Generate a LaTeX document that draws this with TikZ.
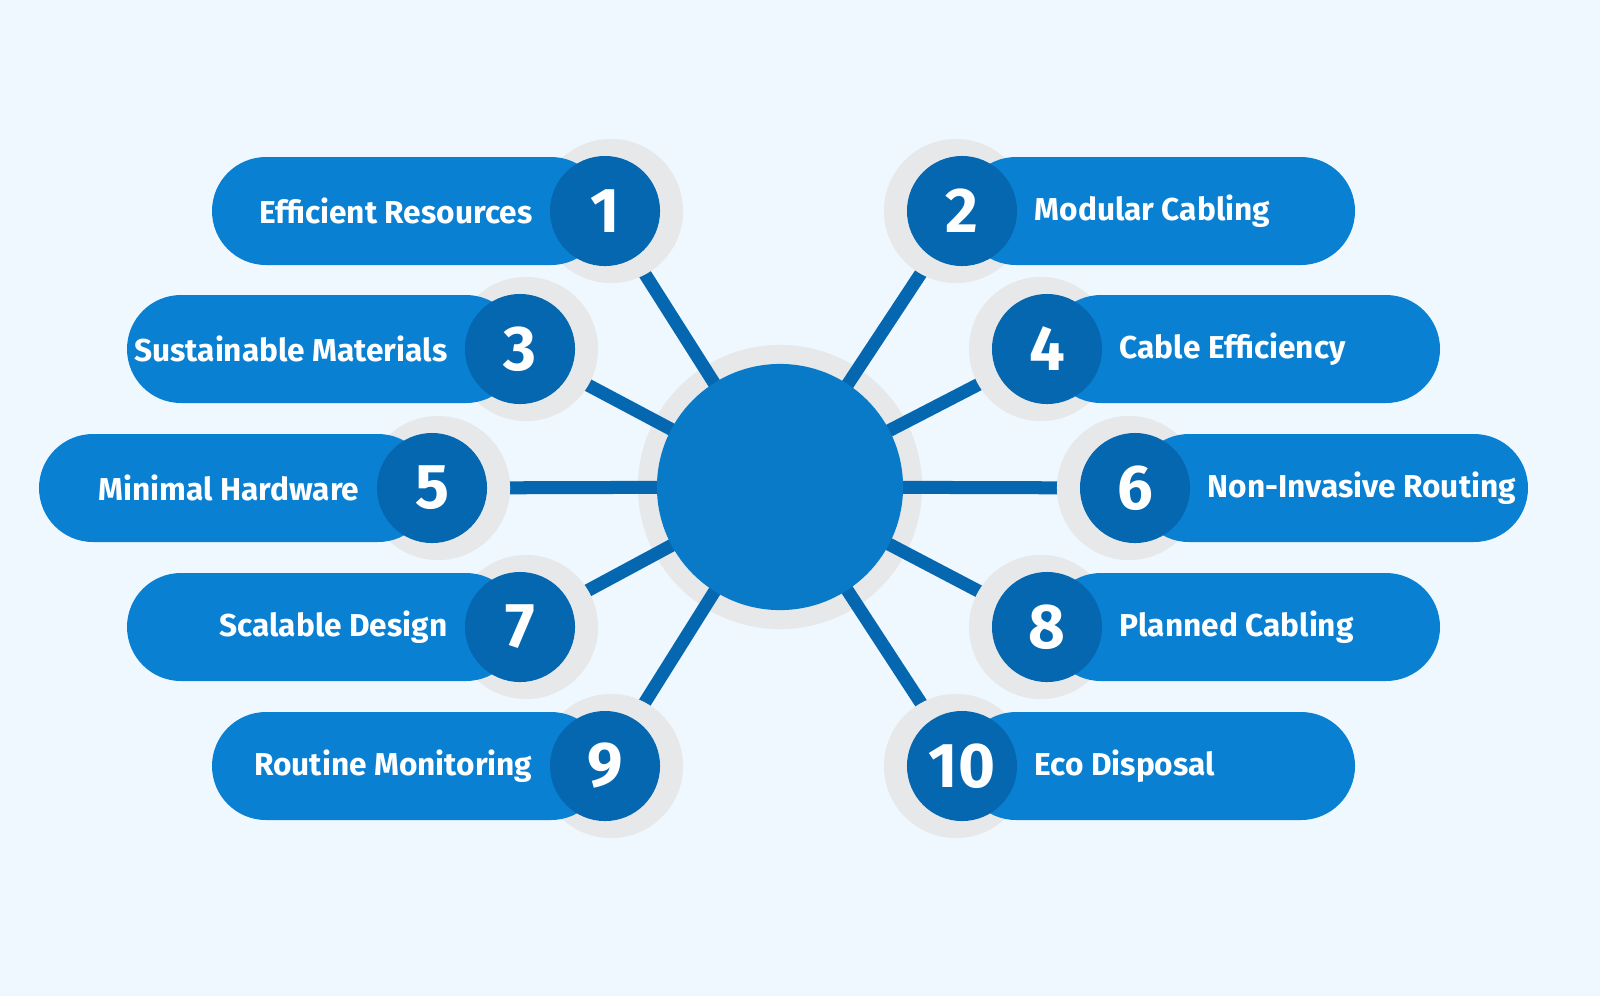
\documentclass[tikz,border=0pt]{standalone}
\usepackage{fontspec}
\setmainfont{Fira Sans}
\definecolor{bgblue}{HTML}{EFF8FE}
\definecolor{pillblue}{HTML}{0A80D2}
\definecolor{numblue}{HTML}{0567B0}
\definecolor{halogray}{HTML}{E6E8EA}
\tikzset{%
	halo/.style={circle,fill=halogray,minimum size=1.44cm,inner sep=0},
	number/.style={circle,fill=numblue,minimum size=1.1cm,inner sep=0,
		text=white,font=\fontsize{18}{18}\selectfont\bfseries},
	pill/.style={fill=pillblue,rounded corners=0.54cm},
	label/.style={text=white,font=\fontsize{9}{11}\selectfont\bfseries,inner sep=0},
	link/.style={draw=numblue,line width=0.13cm},
}
\begin{document}
\begin{tikzpicture}[x=0.01cm, y=-0.01cm]
\fill[bgblue] (0,0) rectangle (1600,996);
\useasboundingbox (0,0) rectangle (1600,996);

% center
\node [circle,fill=halogray,minimum size=2.84cm] (hub-halo) at (780,487) {};
\coordinate (hub) at (780,487);

% left items
\foreach \n/\y/\cx/\l in {1/211/605/Efficient Resources, 3/349/520/Sustainable Materials,
	5/488/432/Minimal Hardware, 7/627/520/Scalable Design, 9/766/605/Routine Monitoring}
{
	\draw [link] (hub) -- (\cx,\y);
	\node [halo] at (\cx+6,\y) {};
	\fill [pill] (\cx-393,\y-54) rectangle (\cx,\y+54);
	\node [number] (num-\n) at (\cx,\y) {\n};
	\node [label,anchor=east] (lab-\n) at (\cx-72,\y) {\l};
}

% right items
\foreach \n/\y/\cx/\l in {2/211/962/Modular Cabling, 4/349/1047/Cable Efficiency,
	6/488/1135/Non-Invasive Routing, 8/627/1047/Planned Cabling, 10/766/962/Eco Disposal}
{
	\draw [link] (hub) -- (\cx,\y);
	\node [halo] at (\cx-6,\y) {};
	\fill [pill] (\cx,\y-54) rectangle (\cx+393,\y+54);
	\node [number] (num-\n) at (\cx,\y) {\n};
	\node [label,anchor=west] (lab-\n) at (\cx+72,\y) {\l};
}

\node [circle,fill=pillblue!95!black,minimum size=2.46cm] (hub-core) at (hub) {};
\end{tikzpicture}
\end{document}
